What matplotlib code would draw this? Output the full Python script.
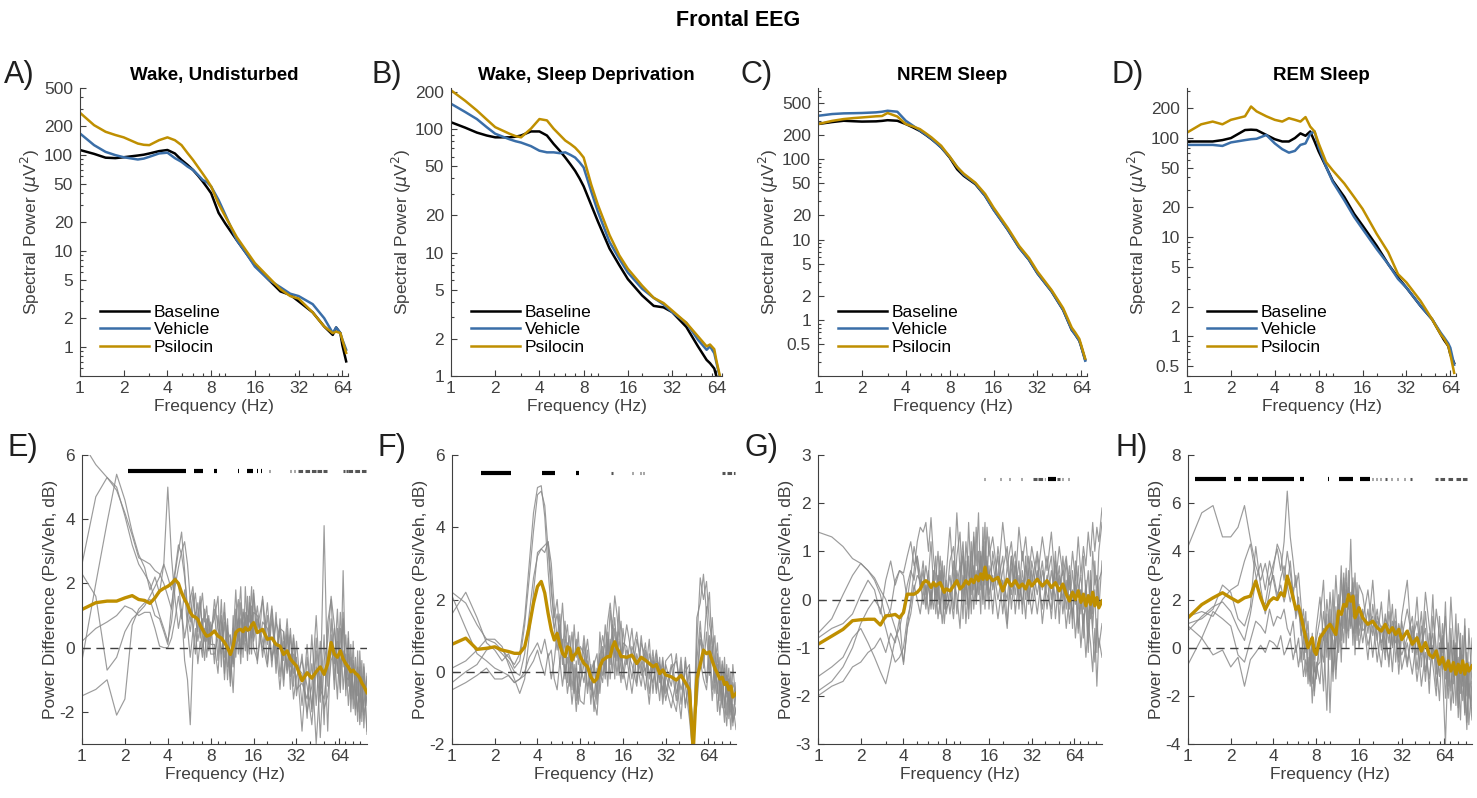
import numpy as np
import matplotlib
matplotlib.use('Agg')
from matplotlib import pyplot as plt
from matplotlib.ticker import FixedLocator, NullFormatter

plt.rcParams['font.family'] = ['Liberation Sans', 'DejaVu Sans']
plt.rcParams['axes.unicode_minus'] = False

# ---------------- data ----------------
# top row: absolute spectra
freq_top = [1, 1.25, 1.5, 1.75, 2, 2.5, 2.75, 3, 3.5, 4, 4.5, 5, 5.5, 6, 6.5, 7, 7.5, 8,
            9, 10, 12, 14, 16, 20, 24, 28, 32, 40, 48, 55, 58, 62, 64, 68]

A_baseline = [113, 103, 94, 93, 95, 99, 101, 104, 110, 113, 104, 89, 79, 70, 61, 53, 46, 40,
              25, 19.4, 13, 9.4, 7.1, 5, 3.8, 3.5, 3, 2.3, 1.64, 1.34, 1.6, 1.4, 1.05, 0.71]
A_vehicle = [168, 127, 108, 100, 95, 90, 92, 96, 104, 106, 93, 85, 76, 70, 62, 55, 52, 47,
             34, 24, 13, 9.4, 6.9, 5, 4.2, 3.6, 3.4, 2.8, 2.0, 1.4, 1.6, 1.4, 1.2, 0.94]
A_psilocin = [276, 205, 175, 162, 153, 132, 128, 127, 143, 153, 143, 127, 105, 89, 75, 64, 55, 47,
              31, 23, 14, 10, 7.5, 5.3, 4, 3.4, 3.2, 2.3, 1.64, 1.4, 1.45, 1.4, 1.19, 0.87]

B_baseline = [114, 103, 94, 89, 86, 86, 87, 89, 96, 96, 89, 76, 67, 59, 52, 46, 40, 34.5,
              24.4, 17.9, 10.8, 7.9, 6.1, 4.5, 3.7, 3.6, 3.3, 2.5, 1.74, 1.35, 1.27, 1.15, 1.0, 0.9]
B_vehicle = [161, 138, 121, 104, 92, 83, 80, 78, 73, 67, 65, 65, 64, 65, 62, 59, 54, 49,
             31.5, 21.5, 12.2, 8.9, 6.9, 5.1, 4.3, 3.8, 3.3, 2.7, 1.97, 1.63, 1.74, 1.53, 1.3, 0.95]
B_psilocin = [207, 170, 142, 120, 104, 92, 88, 86, 101, 121, 118, 101, 90, 81, 76, 71, 65, 59,
              35.7, 24.4, 13.9, 9.5, 7.4, 5.4, 4.3, 3.9, 3.4, 2.7, 2.1, 1.74, 1.8, 1.65, 1.35, 0.98]

C_baseline = [274, 290, 301, 297, 294, 296, 300, 306, 301, 274, 248, 225, 200, 178, 158, 140, 121, 105,
              75, 62, 49, 35, 23.7, 13.3, 7.9, 5.6, 3.8, 2.26, 1.33, 0.75, 0.66, 0.55, 0.46, 0.32]
C_vehicle = [347, 365, 372, 374, 376, 383, 390, 401, 390, 301, 260, 228, 202, 180, 158, 140, 122, 107,
             80, 64, 50, 35, 23.5, 13.3, 7.9, 5.6, 3.8, 2.26, 1.33, 0.75, 0.66, 0.55, 0.46, 0.31]
C_psilocin = [274, 300, 316, 325, 331, 342, 345, 376, 340, 274, 255, 237, 210, 187, 165, 147, 125, 108,
              80, 66, 51, 37, 25, 14, 8.3, 5.9, 4.0, 2.35, 1.4, 0.8, 0.7, 0.58, 0.48, 0.33]

D_baseline = [92, 92, 92, 95, 99.5, 120, 121, 120, 107, 97, 92, 92, 99.6, 111, 105, 116, 92, 73,
              51, 37, 25.4, 17.2, 13.1, 8.2, 5.35, 3.93, 3.1, 2.03, 1.49, 1.05, 0.92, 0.8, 0.66, 0.54]
D_vehicle = [85, 85, 85, 83, 90, 95, 97, 98, 107, 88, 77, 71, 74, 85, 88, 110, 116, 81,
             51, 36, 23.5, 16, 12.1, 7.6, 5.35, 3.8, 3.1, 2.03, 1.49, 1.09, 0.98, 0.85, 0.77, 0.52]
D_psilocin = [113, 137, 146, 137, 152, 165, 207, 185, 165, 152, 146, 158, 152, 146, 162, 130, 116, 88,
              57, 47, 34.7, 25.4, 19.3, 10.8, 7.05, 4.25, 3.5, 2.28, 1.49, 1.05, 0.95, 0.8, 0.66, 0.43]

# bottom row: psilocin / vehicle difference (dB), per animal and mean
freq_diff = [1, 1.25, 1.5, 1.75, 2, 2.25, 2.5, 2.75, 3, 3.25, 3.5, 3.75, 4, 4.25, 4.5, 4.75,
             5, 5.25, 5.5, 5.75, 6, 6.25, 6.5, 6.75, 7, 7.25, 7.5, 7.75, 8,
             8.5, 9, 9.5, 10, 10.5, 11, 11.5, 12, 12.5, 13, 13.5, 14, 14.5, 15, 15.5, 16,
             17, 18.5, 20, 21.5, 23, 24.5, 26, 27.5, 29, 30.5, 32,
             35, 38, 41, 44, 47, 50, 53, 56, 59, 62, 65, 68, 71, 74, 77, 80, 83, 86, 89, 92, 95, 100]

E_animals = [
    [6.4, 5.7, 5.3, 4.9, 4.2, 3.5, 2.8, 2.7, 2.6, 2.4, 2.3, 2.0, 1.6, 1.2, 2.3, 3.0, 3.6, 2.4, 1.0, 0.5, 1.2, 1.7, 0.8, 1.4, 0.6, 1.2, 0.2, 0.9, 0.3]
    + [1.2, -0.4, 1.5, -0.8, 0.9, -1.2, 0.3, 1.8, 0.2, 1.4, -0.3, 1.9, 0.5, 1.6, -0.2, 1.7]
    + [0.6, 1.5, -0.5, 1.2, -0.8, 0.9, -1.0, 0.6, -1.3, 0.3, -1.5]
    + [-0.2, -2.2, 0.4, -1.8, 0.2, -2.4, 0.8, 1.5, -0.5, 1.2, -0.9, 0.9, -1.3, 0.5, -1.6, 0.2, -1.9, -0.1, -2.2, -0.4, -2.5, -0.8],
    [2.6, 4.7, 5.3, 5.0, 4.1, 3.2, 2.6, 2.3, 2.0, 1.5, 1.0, 0.6, 0.2, 0.8, 1.9, 2.5, 3.0, 3.3, 2.6, 1.5, 1.9, 1.0, 0.5, 1.1, 1.7, 0.8, 1.3, 0.4, 0.8]
    + [-0.5, 1.0, -0.2, 0.8, -1.0, 0.4, -0.6, 0.9, 1.5, -0.1, 1.2, 0.3, 1.6, -0.2, 1.3, 0.4]
    + [1.3, -0.3, 1.0, -0.6, 1.1, -0.9, 0.5, -0.7, 0.4, -1.2, 0.2]
    + [-1.8, 0.1, -2.0, 0.3, -1.5, 3.8, -1.2, 0.9, -1.0, 0.6, -1.4, 2.4, -1.1, -0.2, -1.5, -0.4, -1.3, -2.0, -0.6, -2.3, -0.9, -2.6],
    [-0.4, 2.0, 3.9, 5.4, 4.6, 3.6, 2.9, 2.5, 1.8, 2.2, 1.7, 2.6, 5.0, 2.8, 1.5, 0.6, 1.2, -0.4, -1.0, -2.4, -0.2, 0.6, -0.5, 0.2, -0.3, 0.5, 0.9, 0.1, 0.6]
    + [0.9, 1.6, -0.6, 1.1, 0.2, -1.1, 1.0, -0.3, 0.8, 1.9, 0.1, 1.1, -0.4, 1.4, 0.6, 1.8]
    + [-0.5, 1.6, 0.1, 1.3, -0.2, 0.6, 0.5, -0.6, 0.6, -0.8, -0.3]
    + [-2.6, -0.3, -1.9, -0.1, -2.8, -0.4, 0.2, 1.6, 0.7, -0.8, 1.1, -0.6, 0.4, -1.2, 0.1, -1.6, -0.3, -1.5, -0.7, -2.0, -0.6, -2.7],
    [2.3, 1.6, -0.7, -0.3, 0.5, 0.9, 1.1, 1.3, 1.6, 1.9, 2.2, 2.6, 2.2, 1.8, 2.4, 3.2, 2.9, 2.2, 1.3, 0.8, 1.7, 0.9, 1.4, 0.3, 0.9, 0.2, 0.7, 1.0, 0.1]
    + [0.1, -0.8, 0.8, -0.3, 0.5, 0.3, -0.5, 1.2, -0.2, 0.9, 0.6, -0.1, 1.0, 0.8, 1.9, 0.2]
    + [0.9, -0.1, 1.4, -0.4, 0.8, 0.3, -1.2, 0.4, -0.9, -0.2, -1.3]
    + [-1.1, -1.6, -0.5, -3.0, -0.9, -1.9, -1.5, -0.4, -0.1, -1.6, 0.6, -1.3, -0.2, -1.8, -0.7, -1.2, -2.1, -0.6, -1.7, -0.9, -2.1, -1.5],
    [-1.5, -1.3, -1.0, -2.1, -1.6, 0.7, 1.2, 1.4, 1.5, 1.0, 0.9, 0.5, 0.1, 1.3, 2.2, 2.0, 1.1, 0.3, 0.9, 1.6, 0.6, -0.2, 0.9, 1.6, 0.4, -0.4, 0.6, -0.1, 0.2]
    + [1.5, 0.6, 0.2, 1.4, -0.6, -0.2, -1.4, 0.5, 0.9, -0.5, 1.1, 0.9, -0.2, 0.3, 1.0, 0.0]
    + [-0.4, 0.8, 0.6, -0.3, 0.1, -1.3, 0.2, -0.8, -0.2, -1.6, -0.9]
    + [-0.4, -1.2, -2.4, -0.6, -1.7, 0.4, -2.6, 0.4, -1.3, 0.2, -0.5, -0.1, -0.9, -1.0, -0.3, -1.9, -0.8, -1.1, -2.4, -1.5, -0.5, -1.8],
    [0.2, 0.6, 0.8, 1.0, 1.3, 1.2, 1.0, 1.1, 1.1, 0.6, 0.05, 0.0, 0.0, 0.3, 0.9, 1.6, 0.9, 1.8, 0.6, -0.3, 0.5, 1.1, 0.2, 0.7, -0.1, 0.6, -0.3, 0.4, -0.2]
    + [-0.2, 0.3, 1.0, -1.0, 0.7, -0.9, 0.6, 0.0, 0.5, -0.2, 0.8, 0.2, 0.9, 1.2, 0.3, 1.1]
    + [1.0, 0.2, -0.6, 0.9, -0.5, 0.7, -0.4, 0.9, -0.6, 0.4, -0.6]
    + [-0.8, -2.0, -1.2, 1.0, -1.3, -1.6, -0.5, -0.2, 0.6, -0.5, -1.3, 1.1, -1.5, 0.3, -2.0, -0.5, -0.9, -2.3, -0.1, -1.4, -1.8, -0.9],
]
E_mean = ([1.19, 1.4, 1.45, 1.45, 1.55, 1.62, 1.5, 1.47, 1.38, 1.55, 1.76, 1.85, 1.91, 2.0, 2.12, 2.0, 1.71, 1.5, 1.34, 1.1, 0.98, 0.95, 0.88, 0.7, 0.57, 0.45, 0.36, 0.38, 0.41]
          + [0.52, 0.36, 0.3, 0.16, 0.0, -0.21, 0.05, 0.47, 0.55, 0.57, 0.5, 0.62, 0.55, 0.57, 0.7, 0.78]
          + [0.47, 0.57, 0.26, 0.3, 0.1, 0.05, -0.21, -0.1, -0.35, -0.47, -0.57]
          + [-1.03, -0.78, -0.95, -0.75, -0.6, -0.83, -0.5, 0.16, -0.2, -0.3, -0.1, -0.35, -0.5, -0.6, -0.75, -0.7, -0.8, -0.85, -0.95, -1.1, -1.2, -1.4])

F_animals = [
    [2.2, 1.9, 1.3, 0.9, 0.8, 0.6, 0.4, 0.2, 0.5, 1.5, 3.0, 4.4, 5.1, 5.15, 4.3, 2.8, 1.7, 1.2, 1.6, 0.9, 1.9, 0.8, 1.3, 0.4, 1.1, 0.3, 0.9, 0.2, 0.7]
    + [0.5, -0.6, 0.2, -1.1, -0.3, 0.4, 1.0, 0.6, 1.4, 1.9, 1.2, 2.1, 1.6, 0.9, 1.4, 0.5]
    + [1.3, 0.4, 1.1, 0.0, 0.8, -0.2, 0.6, -0.5, 0.4, -0.7, 0.2]
    + [-0.4, 0.5, -0.9, 0.3, -1.1, -2.0, 0.8, 2.6, 2.0, 2.5, 1.3, 0.9, -0.3, 0.5, -0.8, 0.2, -1.0, -0.1, -1.3, 0.0, -1.5, -0.3],
    [1.6, 2.2, 1.5, 0.8, 0.6, 0.3, 0.5, 0.1, 0.3, 1.3, 2.6, 3.9, 4.9, 5.0, 4.6, 3.4, 2.2, 1.5, 2.0, 1.0, 0.6, 1.4, 0.5, 1.0, 0.2, 1.3, 0.4, 1.1, 0.0]
    + [1.0, 0.1, -0.5, 0.3, -0.9, 1.1, 0.2, 1.3, 0.4, 1.7, 0.9, 1.5, 0.6, 1.8, 0.3, 1.2]
    + [0.2, 1.2, -0.3, 1.0, -0.1, 0.9, -0.6, 0.5, -0.3, 0.4, -0.6]
    + [0.2, -0.8, 0.4, -1.0, 0.1, -2.2, 1.5, 1.9, 2.7, 1.6, 2.2, 0.5, 1.0, -0.6, 0.4, -0.9, 0.1, -1.2, -0.2, -0.7, -1.4, -1.0],
    [0.1, 0.3, 0.6, 0.9, 0.9, 0.7, 0.2, -0.2, -0.6, -0.2, 1.0, 2.2, 3.3, 3.4, 3.5, 3.6, 3.0, 1.8, 0.9, 1.6, 0.5, -0.2, 0.8, -0.1, 0.6, -0.4, 0.3, -0.6, 0.2]
    + [-0.3, 0.6, -0.9, 0.2, 0.5, -0.6, 0.4, -0.2, 0.9, 0.2, 1.0, 0.4, 0.8, -0.1, 0.6, 0.1]
    + [-0.5, 0.7, 0.3, -0.4, 0.6, -0.6, 0.3, 0.1, -0.8, 0.3, -0.4]
    + [-1.0, -0.2, -1.3, 0.4, -0.8, -1.8, -0.6, 0.9, 0.4, -0.3, 1.0, -0.5, 0.3, -1.1, -0.2, -0.6, -1.4, 0.2, -0.8, -1.6, -0.5, -1.2],
    [-0.3, 0.0, 0.2, 0.6, 0.7, 0.5, 0.3, 0.0, -0.1, 0.5, 1.6, 2.6, 3.2, 3.4, 3.3, 3.6, 2.5, 1.2, 0.6, 1.3, 0.2, 0.9, -0.3, 0.5, -0.5, 0.2, -0.8, 0.0, -0.4]
    + [0.8, -0.4, -0.1, -0.7, 0.1, -0.2, 0.7, 0.0, 1.1, 0.5, 1.3, -0.2, 1.1, 0.2, -0.3, 0.8]
    + [0.7, -0.2, 0.9, 0.3, -0.5, 0.5, 0.0, 0.6, -0.2, -0.5, 0.3]
    + [0.5, -0.6, 0.0, -0.4, -1.3, -2.4, 0.3, 1.4, 0.1, 1.1, -0.1, 0.7, -0.6, 0.2, -0.4, -1.0, 0.4, -0.7, -0.2, -1.1, 0.2, -0.9],
    [-0.5, -0.3, -0.1, 0.1, -0.2, -0.2, -0.1, -0.3, -0.2, 0.0, 0.4, 0.6, 0.8, 0.5, 0.9, 0.4, 0.6, -0.2, -0.5, 0.3, -0.4, 0.2, -0.6, -0.1, -0.9, -0.3, -1.1, -0.4, -0.8]
    + [-0.9, 0.3, -0.4, -0.8, -1.2, 0.0, -0.3, 0.6, -0.4, 0.9, 0.0, 0.7, -0.1, 0.5, 0.1, -0.2]
    + [0.4, -0.6, 0.5, -0.1, 0.1, -0.9, 0.4, -0.6, 0.2, -0.9, -0.1]
    + [-0.6, -1.1, 0.2, -0.9, -0.3, -1.6, -0.9, 0.3, -0.2, -0.5, 0.4, -0.8, 0.0, -0.4, -1.2, -0.3, -0.8, -1.5, -0.6, -1.2, -0.9, -1.6],
    [2.1, 1.2, 0.5, 0.3, 0.1, 0.0, -0.1, -0.3, -0.2, -0.1, 0.1, 0.3, 0.6, 0.2, -0.1, 0.5, -0.2, 0.3, 1.1, 0.2, 0.9, -0.1, 0.4, -0.4, 0.3, -0.6, 0.1, -0.9, -0.3]
    + [0.2, 0.9, 0.0, 0.3, -0.6, 0.5, -0.1, 0.2, 0.8, -0.2, 0.6, 1.2, 0.3, 0.9, 0.5, 0.0]
    + [0.6, 0.2, -0.4, 0.8, 0.4, 0.0, -0.3, 0.3, 0.2, -0.2, -0.8]
    + [0.1, 0.3, -0.5, 0.0, 0.2, -2.0, -0.3, 1.1, 0.6, 1.8, 0.4, 1.5, 0.2, 0.8, -0.5, 0.3, -0.2, -0.6, 0.1, -0.9, -0.3, -0.7],
]
F_mean = ([0.76, 0.93, 0.62, 0.65, 0.69, 0.6, 0.56, 0.51, 0.51, 0.69, 1.25, 1.9, 2.36, 2.5, 2.18, 1.62, 1.16, 0.88, 1.06, 0.74, 0.51, 0.42, 0.69, 0.65, 0.32, 0.46, 0.51, 0.65, 0.42]
          + [0.23, 0.14, -0.14, -0.28, -0.19, 0.14, 0.32, 0.37, 0.42, 0.42, 0.69, 0.83, 0.65, 0.56, 0.42, 0.42]
          + [0.4, 0.46, 0.23, 0.4, 0.32, 0.23, 0.14, 0.2, -0.05, 0.05, -0.09]
          + [-0.14, -0.23, -0.1, -0.3, -0.5, -2.2, -0.2, 0.2, 0.6, 0.5, 0.55, 0.3, 0.1, -0.05, -0.2, -0.15, -0.35, -0.3, -0.5, -0.4, -0.7, -0.6])

G_animals = [
    [1.4, 1.3, 1.1, 0.85, 0.75, 0.6, 0.45, 0.2, 0.0, -0.3, -0.6, -0.9, -1.3, -0.6, 0.0, 0.6, 1.2, 1.5, 1.4, 1.6, 1.0, 1.7, 0.9, 0.4, 1.0, 0.3, 0.8, -0.2, 0.5]
    + [1.5, 0.3, 1.8, 0.6, 1.2, -0.1, 1.6, 0.4, 1.3, 0.7, 1.8, 0.2, 1.1, 0.5, 1.5, 0.9]
    + [1.3, 0.4, 1.6, 0.7, 1.2, 0.3, 1.5, 0.8, 1.3, 0.5, 1.1]
    + [0.4, 1.3, 0.6, 1.4, 0.3, 1.1, 0.5, 0.9, 0.2, 1.0, 0.4, 1.3, 0.5, 1.1, 0.7, 1.4, 0.9, 1.6, 1.0, 1.5, 1.2, 1.9],
    [-0.7, -0.4, 0.1, 0.5, 0.75, 0.6, 0.4, 0.1, -0.4, -0.2, 0.4, 0.6, 0.55, 0.9, 1.2, 0.7, 0.9, 0.2, 0.6, -0.1, 0.5, 1.2, 0.3, 0.9, -0.1, 0.6, 0.1, 0.7, -0.2]
    + [0.0, 0.8, -0.3, 0.5, 0.9, -0.5, 0.3, 1.0, -0.2, 0.6, 0.1, 0.9, -0.1, 0.7, 0.3, 1.3]
    + [0.2, 0.9, -0.3, 0.7, 0.1, 0.8, -0.2, 0.6, 0.0, 0.9, 0.3]
    + [1.0, 0.2, 0.9, 0.0, 0.8, 0.3, 0.6, -0.2, 0.5, -0.4, 0.3, -0.6, 0.2, -0.8, 0.4, -0.5, 0.6, -0.3, 0.8, 0.0, 1.0, 1.6],
    [-0.8, -0.6, -0.5, -0.3, 0.1, 0.4, 0.2, -0.3, 0.4, 0.8, 0.3, 0.6, 0.5, 0.0, 0.5, 1.1, 0.7, 0.3, 0.8, 0.1, 0.6, 0.0, 0.5, -0.3, 0.3, 0.9, 0.2, -0.5, 0.0]
    + [0.5, -0.2, 0.9, 1.4, 0.0, 0.8, -0.4, 0.6, 0.2, 1.5, 0.4, 0.9, 0.0, 1.2, 0.2, 0.5]
    + [0.8, 0.0, 0.6, 1.1, -0.2, 0.7, 0.1, 1.0, 0.4, -0.1, 0.8]
    + [0.1, 0.8, -0.2, 0.6, 0.0, 0.7, -0.3, 0.4, -0.5, 0.2, -0.8, 0.0, -1.0, -0.3, -1.2, -0.5, -0.9, -1.5, -0.6, -1.8, -0.8, -1.2],
    [-1.6, -1.4, -1.2, -0.8, -0.6, -0.9, -1.2, -1.5, -1.75, -1.3, -0.8, -0.6, -0.2, 0.3, 0.6, 0.4, 0.9, 0.5, 0.2, 0.7, 0.3, -0.2, 0.4, 0.0, 0.5, -0.3, 0.3, -0.1, 0.4]
    + [-0.3, 0.4, 0.1, -0.6, 0.5, 0.2, 0.9, -0.3, 0.7, 0.0, 0.4, 1.0, 0.6, -0.2, 0.8, 0.1]
    + [0.5, -0.4, 0.4, 0.0, 0.9, -0.3, 0.5, -0.1, 0.7, 0.2, -0.3]
    + [0.6, -0.2, 0.5, -0.4, 0.7, -0.1, 0.3, -0.6, 0.1, -0.3, 0.5, -0.7, 0.2, -0.5, -0.1, -1.1, 0.0, -0.7, -1.3, -0.4, -1.0, -0.5],
    [-1.9, -1.7, -1.4, -1.0, -0.5, -0.2, 0.0, -0.2, -0.6, -1.0, -1.3, -1.2, -1.0, -0.4, -0.1, 0.3, 0.0, -0.3, 0.2, -0.2, 0.3, -0.1, 0.6, 0.1, 0.5, -0.2, 0.6, 0.2, -0.1]
    + [0.8, 1.1, 0.3, 0.7, -0.4, 1.2, 0.5, 0.1, 1.4, -0.1, 0.6, -0.3, 1.5, 0.3, 0.9, -0.2]
    + [1.0, 0.3, 0.9, -0.5, 0.6, 1.0, 0.0, 0.4, -0.4, 0.6, 0.0]
    + [0.9, -0.5, 0.4, 0.9, -0.4, 0.5, 0.0, 0.8, -0.2, 0.6, -0.1, 0.7, -0.3, 0.9, 0.1, 0.6, -0.4, 1.0, 0.3, 0.5, -0.2, 0.8],
    [-2.0, -1.8, -1.7, -1.4, -1.3, -1.1, -1.0, -0.8, -1.1, -0.7, -0.9, -0.4, -1.35, -0.6, -0.3, 0.2, 0.5, 0.4, -0.1, 0.3, -0.3, 0.2, -0.2, 0.3, -0.4, 0.0, -0.5, 0.1, -0.3]
    + [0.2, -0.4, 0.6, 0.2, 1.0, 0.4, -0.2, 1.2, 0.5, 0.0, 1.0, 0.3, 0.7, 1.6, 0.0, 0.7]
    + [-0.3, 1.1, 0.2, -0.6, 0.9, 0.1, 0.8, -0.3, 0.9, 0.0, 0.6]
    + [-0.3, 0.6, 0.1, -0.2, 1.0, -0.5, 0.9, 0.1, 0.7, -0.6, 0.8, 0.2, 0.5, -0.2, 0.3, -0.9, 0.4, -0.6, 0.2, -1.1, 0.4, 0.6],
]
G_mean = ([-0.93, -0.76, -0.62, -0.44, -0.42, -0.41, -0.41, -0.53, -0.34, -0.33, -0.31, -0.38, -0.27, 0.11, 0.11, 0.11, 0.15, 0.22, 0.35, 0.39, 0.35, 0.25, 0.35, 0.28, 0.32, 0.35, 0.25, 0.15, 0.22]
          + [0.18, 0.28, 0.39, 0.22, 0.28, 0.39, 0.32, 0.42, 0.35, 0.49, 0.39, 0.53, 0.42, 0.67, 0.42, 0.49]
          + [0.39, 0.46, 0.18, 0.42, 0.28, 0.39, 0.25, 0.32, 0.22, 0.39, 0.28]
          + [0.42, 0.28, 0.39, 0.25, 0.35, 0.18, 0.32, 0.11, -0.03, 0.15, 0.0, 0.18, -0.06, 0.11, -0.13, 0.08, -0.1, 0.15, -0.13, 0.04, -0.17, -0.03])

H_animals = [
    [4.2, 5.6, 5.9, 4.6, 4.6, 5.0, 5.9, 4.5, 3.4, 2.8, 3.5, 2.6, 3.0, 2.2, 2.6, 1.9, 2.5, 3.6, 2.2, 1.4, 2.1, 0.9, 1.6, 0.2, 1.1, -0.5, 0.6, -1.0, 0.3]
    + [1.2, 2.8, -0.4, 2.3, 0.5, 3.0, 1.1, 3.4, 0.8, 2.7, 1.6, 4.5, 1.3, 3.1, 0.9, 2.6]
    + [2.2, 0.6, 2.8, 0.3, 1.9, -0.2, 2.4, 0.1, 1.6, -0.4, 1.3]
    + [2.8, -0.2, 2.1, -0.8, 1.5, -0.5, 2.2, -1.1, 1.3, -0.9, 1.9, -1.6, 0.8, -1.2, 1.4, -1.8, 0.6, -1.4, 1.2, -2.0, 0.8, -1.5],
    [1.3, 1.5, 1.3, 2.0, 2.4, 2.6, 3.6, 4.3, 3.0, 2.0, 1.8, 2.9, 3.5, 4.1, 3.2, 4.4, 6.5, 4.6, 3.6, 2.5, 3.1, 1.8, 0.4, 1.5, -0.8, -1.4, 0.2, -1.8, -0.6]
    + [-1.5, 0.8, -2.6, 1.6, -1.0, 0.4, 2.2, -0.6, 2.6, 0.6, 3.2, 0.9, 2.7, -0.3, 2.2, 0.5]
    + [1.5, -0.5, 1.8, 0.3, -0.8, 1.2, 0.9, -1.0, 1.1, 0.2, -0.3]
    + [0.4, 1.3, -0.9, 0.9, -1.4, 0.6, -0.7, -2.0, 0.2, -1.0, -4.0, -0.2, -1.8, 0.3, -2.4, -0.4, -1.9, 0.5, -2.7, -0.9, -3.2, -1.4],
    [1.0, 1.2, 1.6, 2.6, 2.3, 1.2, 0.9, 1.7, 4.2, 2.5, 1.4, 2.3, 3.3, 4.3, 3.9, 2.8, 4.0, 3.1, 2.2, 3.0, 1.5, 0.9, -0.5, 0.6, -1.5, -0.4, -2.3, -0.6, -1.2]
    + [0.6, -1.8, 1.4, -2.7, 1.0, 0.0, 1.8, 0.3, 2.9, 1.2, 0.4, 2.3, 0.1, 1.9, 0.8, 1.4]
    + [0.2, 1.6, -0.4, 1.3, 0.8, -0.5, 1.5, 0.0, 0.9, -1.1, 0.6]
    + [-0.8, 0.9, -0.3, 1.5, -1.0, 0.0, 0.6, -1.6, -0.4, 0.4, -2.1, 0.2, -1.0, -2.3, 0.1, -1.2, -3.0, -0.3, -1.7, -3.4, -0.6, -2.4],
    [0.7, 1.3, 1.7, 1.9, 1.5, 0.8, 0.3, 1.4, 2.8, 3.5, 2.4, 3.6, 2.8, 2.0, 2.9, 3.4, 2.6, 1.9, 2.5, 1.2, 1.8, 0.5, 1.2, -0.2, 0.6, -1.1, 0.4, -0.5, 0.8]
    + [2.1, 0.3, 0.9, -0.5, 2.4, -0.9, 0.5, 2.8, 1.5, 3.3, 0.7, 1.9, 2.9, 0.6, 1.7, 0.0]
    + [1.1, 2.4, 0.5, 1.6, -0.1, 1.4, 0.2, 1.8, -0.6, 1.0, 0.4]
    + [1.6, 0.3, 1.1, -0.3, 2.3, 0.9, -0.4, 1.6, 0.5, -0.2, 1.3, -0.6, 2.1, 0.2, -0.9, 1.0, -0.4, -1.6, 0.9, -0.8, -2.1, 0.4],
    [-0.7, 0.4, 1.5, 1.2, 0.9, -0.3, -0.6, 0.3, 1.1, 0.9, 0.6, 1.6, 0.9, 1.3, 1.2, 1.6, 0.8, 0.5, 1.1, -0.2, 0.4, -0.6, 0.5, -1.2, -0.4, -1.6, -0.3, -2.0, -0.8]
    + [-0.6, 1.5, 0.2, 1.1, -1.4, 1.7, -0.2, 1.3, 0.2, 2.4, 1.9, 0.8, 1.5, 2.2, 0.3, 1.8]
    + [0.7, 1.0, 1.3, -0.6, 0.9, 0.3, -0.5, 0.8, 0.2, 0.6, -0.9]
    + [0.2, -1.1, 0.6, -1.6, -0.2, -1.3, 0.1, -0.6, -2.2, 0.5, -1.3, -0.4, -2.6, -0.8, 0.2, -2.9, -1.0, -2.2, -0.7, -3.1, -1.5, -2.7],
    [0.9, 0.4, -0.3, -0.1, -0.8, -0.4, -1.6, -0.5, -0.2, 0.1, -0.2, 0.3, 0.2, 0.0, 0.5, -0.3, 0.0, 0.4, -0.5, 0.1, -0.8, 0.0, -1.2, -0.5, -1.0, -0.2, -1.5, -0.8, -1.3]
    + [0.3, -0.6, 2.0, 0.6, 0.3, -1.3, 1.1, 0.9, 3.1, 0.0, 2.5, 1.6, 0.6, 1.0, 2.7, 0.9]
    + [1.6, 0.1, 0.9, 1.1, 0.2, 0.8, -0.8, 1.1, 0.5, -0.6, 1.1]
    + [-0.6, 0.7, -1.4, 0.2, 0.8, -1.9, 1.3, 0.0, -1.2, 1.0, -0.6, -2.1, 0.3, -1.5, -0.3, -2.5, 0.0, -1.2, -2.8, -0.2, -1.7, -3.0],
]
H_mean = ([1.24, 1.79, 2.07, 2.28, 2.07, 1.9, 2.07, 2.14, 2.76, 2.07, 1.59, 1.93, 2.07, 2.0, 2.28, 2.14, 2.97, 2.55, 2.07, 1.59, 1.72, 1.31, 0.83, 0.41, 0.0, 0.21, 0.41, -0.14, -0.28]
          + [0.41, 0.62, 0.83, 0.97, 0.76, 0.55, 1.52, 1.38, 1.79, 1.72, 2.2, 1.93, 2.14, 1.24, 1.45, 1.66]
          + [1.24, 0.97, 1.1, 0.83, 0.69, 0.97, 0.62, 0.83, 0.55, 0.76, 0.34]
          + [0.69, 0.14, 0.41, -0.14, 0.21, -0.28, -0.41, -0.14, -0.69, -0.41, -0.9, -0.55, -0.97, -0.62, -1.1, -0.69, -1.03, -0.55, -1.1, -0.69, -0.97, -0.76])

# significant frequency ranges (Hz)
E_sig = [(2.11, 5.37), (6.1, 7.1), (8.5, 8.8), (12.4, 12.7), (14.3, 15.9), (16.9, 17.2), (18.1, 18.4)]
E_sig_weak = [(20.5, 20.8), (29, 29.5), (30.5, 31), (32.8, 36), (36.5, 44), (44.5, 48), (49, 52),
              (68, 70), (71, 73), (74, 82), (83, 100)]
F_sig = [(1.59, 2.59), (4.27, 5.3), (7.5, 7.85)]
F_sig_weak = [(13.2, 13.6), (18.5, 18.8), (21.2, 21.6), (22.0, 22.4), (36.4, 36.7), (45.8, 46.1),
              (76.6, 77.5), (80, 84), (86, 97.8)]
G_sig = [(41.6, 47.8)]
G_sig_weak = [(14.7, 15), (19.2, 19.5), (22.3, 22.5), (27, 27.3), (32.7, 35), (35.5, 40), (48.5, 51),
              (52, 53.1), (58, 58.3)]
H_sig = [(1.12, 1.84), (2.11, 2.36), (2.63, 3.09), (3.33, 5.59), (6.13, 6.57), (9.7, 9.9),
         (11.5, 14.5), (16.2, 19.1)]
H_sig_weak = [(19.6, 20.2), (21, 21.5), (22.5, 23), (24.5, 25), (27, 27.4), (29.5, 30), (33, 33.5),
              (36.5, 37.5), (54.6, 58), (60, 66), (68, 75), (77, 93.7)]

freq_ticks = [1, 2, 4, 8, 16, 32, 64]
minor_freq = [3, 5, 6, 7, 9, 10, 20, 30, 40, 50, 60, 70, 80, 90]

# ---------------- style ----------------
BLUE = '#3A6EA8'
GOLD = '#BF8F00'
AXC = '#404040'

W, H = 1477, 798
fig = plt.figure(figsize=(W / 100, H / 100), dpi=100)


def px_axes(left, top, right, bottom):
    return fig.add_axes([left / W, 1 - bottom / H, (right - left) / W, (bottom - top) / H])


def style_axes(ax):
    for s in ['top', 'right']:
        ax.spines[s].set_visible(False)
    for s in ['left', 'bottom']:
        ax.spines[s].set_color(AXC)
        ax.spines[s].set_linewidth(0.8)
    ax.tick_params(which='both', direction='in', colors=AXC, labelsize=12.5, width=0.8)
    ax.tick_params(which='major', length=4)
    ax.tick_params(which='minor', length=2)
    ax.tick_params(axis='y', pad=5)
    ax.set_xscale('log')
    ax.xaxis.set_major_locator(FixedLocator(freq_ticks))
    ax.set_xticklabels([str(t) for t in freq_ticks])
    ax.xaxis.set_minor_locator(FixedLocator(minor_freq))
    ax.xaxis.set_minor_formatter(NullFormatter())
    ax.set_xlabel('Frequency (Hz)', fontsize=12.5, color=AXC, labelpad=2)


def draw_spectrum(ax, base, veh, psi, yticks, ylim, title):
    ax.plot(freq_top, base, color='black', lw=1.8, label='Baseline')
    ax.plot(freq_top, veh, color=BLUE, lw=1.8, label='Vehicle')
    ax.plot(freq_top, psi, color=GOLD, lw=1.8, label='Psilocin')
    style_axes(ax)
    ax.set_yscale('log')
    ax.set_xlim(1, 70)
    ax.set_ylim(*ylim)
    ax.yaxis.set_major_locator(FixedLocator(yticks))
    ax.set_yticklabels([('%g' % t) for t in yticks])
    ax.yaxis.set_minor_formatter(NullFormatter())
    ax.set_ylabel(r'Spectral Power ($\mu$V$^2$)', fontsize=12.5, color=AXC, labelpad=1)
    ax.set_title(title, fontsize=13.5, fontweight='bold', pad=6)
    ax.legend(loc='lower left', frameon=False, fontsize=12.5, handlelength=2.8,
              handletextpad=0.3, labelspacing=0.15, borderaxespad=0.3,
              bbox_to_anchor=(0.03, 0.03))


def draw_diff(ax, animals, mean, sig, sig_weak, sig_y, ylim, yticks):
    for a in animals:
        ax.plot(freq_diff, a, color='#8a8a8a', lw=0.85, alpha=0.85)
    ax.axhline(0, color='#404040', lw=1, ls=(0, (6, 4)))
    ax.plot(freq_diff, mean, color=GOLD, lw=2.4)
    for a, b in sig:
        ax.plot([a, b], [sig_y, sig_y], color='black', lw=3, solid_capstyle='butt')
    for a, b in sig_weak:
        ax.plot([a, b], [sig_y, sig_y], color='#555555', lw=2.2, ls=(0, (1.5, 0.6)),
                solid_capstyle='butt')
    style_axes(ax)
    ax.set_xlim(1, 100)
    ax.set_ylim(*ylim)
    ax.set_yticks(yticks)
    ax.set_yticklabels([str(t) for t in yticks])
    ax.set_ylabel('Power Difference (Psi/Veh, dB)', fontsize=12.5, color=AXC, labelpad=1)


# top row
axA = px_axes(80, 88, 348, 376)
draw_spectrum(axA, A_baseline, A_vehicle, A_psilocin, [1, 2, 5, 10, 20, 50, 100, 200, 500],
              (0.5, 500), 'Wake, Undisturbed')
axB = px_axes(451, 88, 722, 376)
draw_spectrum(axB, B_baseline, B_vehicle, B_psilocin, [1, 2, 5, 10, 20, 50, 100, 200],
              (1, 216), 'Wake, Sleep Deprivation')
axC = px_axes(818, 88, 1087, 376)
draw_spectrum(axC, C_baseline, C_vehicle, C_psilocin, [0.5, 1, 2, 5, 10, 20, 50, 100, 200, 500],
              (0.2, 770), 'NREM Sleep')
axD = px_axes(1187, 88, 1456, 376)
draw_spectrum(axD, D_baseline, D_vehicle, D_psilocin, [0.5, 1, 2, 5, 10, 20, 50, 100, 200],
              (0.4, 318), 'REM Sleep')

# bottom row
axE = px_axes(82, 455, 367, 744)
draw_diff(axE, E_animals, E_mean, E_sig, E_sig_weak, 5.5, (-3, 6), [-2, 0, 2, 4, 6])
axF = px_axes(452, 455, 736, 744)
draw_diff(axF, F_animals, F_mean, F_sig, F_sig_weak, 5.5, (-2, 6), [-2, 0, 2, 4, 6])
axG = px_axes(818, 455, 1102, 744)
draw_diff(axG, G_animals, G_mean, G_sig, G_sig_weak, 2.5, (-3, 3), [-3, -2, -1, 0, 1, 2, 3])
axH = px_axes(1188, 455, 1472, 744)
draw_diff(axH, H_animals, H_mean, H_sig, H_sig_weak, 7, (-4, 8), [-4, -2, 0, 2, 4, 6, 8])

# panel letters
letters = [('A)', 4, 75), ('B)', 372, 75), ('C)', 741, 75), ('D)', 1112, 75),
           ('E)', 8, 448), ('F)', 378, 448), ('G)', 745, 448), ('H)', 1115, 448)]
for txt, x, y in letters:
    fig.text(x / W, 1 - y / H, txt, fontsize=22, color='#202020', ha='left', va='center')

fig.text(0.5, 1 - 20 / H, 'Frontal EEG', fontsize=15.5, fontweight='bold', ha='center', va='center')

fig.savefig('out.png', dpi=100)
